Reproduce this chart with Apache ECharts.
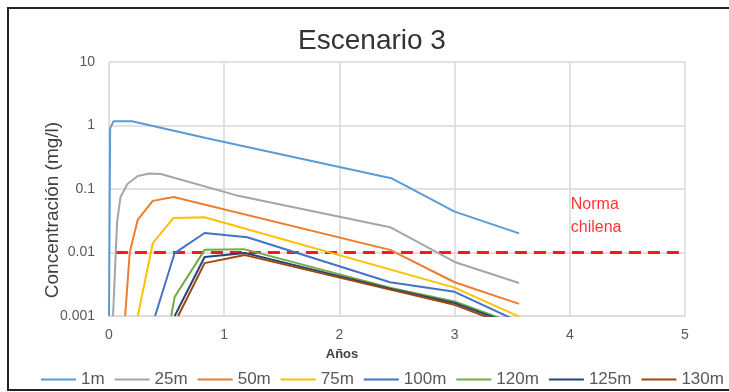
<!DOCTYPE html>
<html>
<head>
<meta charset="utf-8">
<script src="https://cdn.jsdelivr.net/npm/echarts@6/dist/echarts.min.js"></script>
<style>
  html, body { margin: 0; padding: 0; background: #fff; }
  #myChart { width: 729px; height: 392px; }
</style>
</head>
<body>
<div id="myChart"></div>
<script>
// [años, concentración mg/l]
const serieNames = ['1m', '25m', '50m', '75m', '100m', '120m', '125m', '130m']
const serieColors = ['#5B9BD5', '#A5A5A5', '#ED7D31', '#FFC000', '#4472C4', '#70AD47', '#264478', '#9E480E']

const d1m = [[0, 0.001], [0.01, 0.9], [0.04, 1.17], [0.2, 1.17], [0.85, 0.63], [2.45, 0.148], [3.0, 0.044], [3.56, 0.020]]
const d25m = [[0.035, 0.001], [0.07, 0.03], [0.1, 0.075], [0.16, 0.12], [0.25, 0.16], [0.35, 0.175], [0.45, 0.172], [1.1, 0.08], [2.44, 0.025], [3.0, 0.0071], [3.56, 0.0033]]
const d50m = [[0.14, 0.001], [0.18, 0.01], [0.25, 0.033], [0.38, 0.065], [0.56, 0.075], [2.44, 0.011], [3.0, 0.0034], [3.56, 0.00155]]
const d75m = [[0.25, 0.001], [0.38, 0.014], [0.56, 0.035], [0.83, 0.036], [3.0, 0.0028], [3.56, 0.00098]]
const d100m = [[0.4, 0.001], [0.57, 0.0098], [0.83, 0.0203], [1.2, 0.0174], [2.44, 0.0034], [3.0, 0.0024], [3.56, 0.00081]]
const d120m = [[0.54, 0.001], [0.57, 0.002], [0.83, 0.011], [1.17, 0.0113], [2.44, 0.0028], [3.0, 0.0017], [3.56, 0.00072]]
const d125m = [[0.57, 0.001], [0.83, 0.0085], [1.18, 0.0098], [2.44, 0.0027], [3.0, 0.0016], [3.56, 0.00068]]
const d130m = [[0.6, 0.001], [0.83, 0.0068], [1.18, 0.0091], [2.44, 0.0026], [3.0, 0.0015], [3.56, 0.00062]]
const serieData = [d1m, d25m, d50m, d75m, d100m, d120m, d125m, d130m]

const normaLine = [[0.06, 0.01], [5, 0.01]]
const normaLabelPos = [4.0, 0.037]

const font = 'Liberation Sans'

var myChart = echarts.init(document.getElementById('myChart'))

const series = serieNames.map((name, i) => ({
  name: name,
  type: 'line',
  data: serieData[i],
  symbol: 'none',
  showSymbol: false,
  clip: true,
  lineStyle: { width: 2, color: serieColors[i] },
  itemStyle: { color: serieColors[i] }
}))

series.push({
  name: 'Norma chilena',
  type: 'line',
  data: normaLine,
  symbol: 'none',
  lineStyle: { width: 3, color: '#FF0000', type: [12, 7], opacity: 0.9 },
  z: 1
})

series.push({
  name: 'etiqueta',
  type: 'scatter',
  data: [normaLabelPos],
  symbolSize: 0,
  silent: true,
  label: {
    show: true,
    position: 'right',
    distance: 1,
    formatter: 'Norma\nchilena',
    color: '#FF0000',
    fontFamily: font,
    fontSize: 16,
    lineHeight: 23,
    align: 'left'
  }
})

myChart.setOption({
  animation: false,
  textStyle: { fontFamily: font },
  title: {
    text: 'Escenario 3',
    left: 367,
    textAlign: 'center',
    top: 22,
    textStyle: { fontFamily: font, fontSize: 28, fontWeight: 'normal', color: '#333' }
  },
  graphic: [{
    type: 'rect',
    shape: { x: 8, y: 8, width: 760, height: 382 },
    style: { fill: 'none', stroke: '#222', lineWidth: 2 },
    silent: true
  }],
  grid: {
    left: 109,
    top: 62,
    width: 576,
    height: 254
  },
  legend: {
    data: serieNames,
    left: 41,
    top: 371,
    width: 900,
    padding: 0,
    icon: 'rect',
    itemWidth: 35,
    itemHeight: 2,
    itemGap: 10,
    textStyle: { fontFamily: font, fontSize: 17, color: '#595959' }
  },
  xAxis: {
    type: 'value',
    min: 0,
    max: 5,
    interval: 1,
    name: 'Años',
    nameLocation: 'middle',
    nameGap: 32,
    nameMoveOverlap: false,
    nameTextStyle: { fontFamily: font, fontSize: 13, fontWeight: 'bold', color: '#404040', padding: [0, 110, 0, 0] },
    axisLine: { show: true, lineStyle: { color: '#d9d9d9' } },
    axisTick: { show: false },
    axisLabel: { fontSize: 14, color: '#595959', margin: 12 },
    splitLine: { show: true, lineStyle: { color: '#d9d9d9', width: 1.5 } }
  },
  yAxis: {
    type: 'log',
    logBase: 10,
    min: 0.001,
    max: 10,
    name: 'Concentración (mg/l)',
    nameLocation: 'middle',
    nameGap: 47,
    nameMoveOverlap: false,
    nameTextStyle: { fontFamily: font, fontSize: 19, color: '#404040', padding: [0, 42, 0, 0] },
    axisLine: { show: true, lineStyle: { color: '#d9d9d9' } },
    axisTick: { show: false },
    axisLabel: {
      fontSize: 14,
      color: '#595959',
      margin: 14,
      formatter: v => String(Number(v.toPrecision(3)))
    },
    splitLine: { show: true, lineStyle: { color: '#d9d9d9', width: 1.5 } }
  },
  series: series
})
</script>
</body>
</html>
